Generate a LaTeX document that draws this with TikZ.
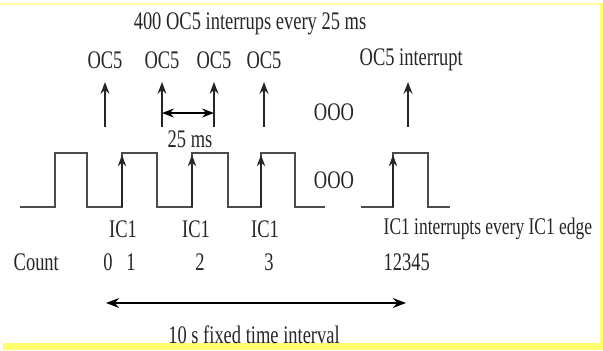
\documentclass[tikz,border=0pt]{standalone}
\usepackage{fontspec}
\setmainfont[FakeStretch=0.73]{Liberation Serif}
\usetikzlibrary{arrows.meta,positioning}
\definecolor{edgeyellow}{RGB}{255,255,110}
\tikzset{lbl/.style={inner sep=1pt,font=\fontsize{18}{20}\selectfont,text=black!85},
  sig/.style={line width=1.1pt,black!70},
  up/.style={->,line width=1.2pt,black!85}}
\begin{document}
\begin{tikzpicture}[x=0.025cm,y=-0.025cm,>=Stealth]
\useasboundingbox (0,0) rectangle (603,350);
\fill[edgeyellow!60] (0,3) rectangle (603,5);
\fill[edgeyellow] (600,3) rectangle (603,350);
\fill[edgeyellow] (3,343) rectangle (603,350);
\node[lbl] (title) at (250,24) {400 OC5 interrups every 25 ms};
\node[lbl] (oc1) at (105,60) {OC5};
\node[lbl] (oc2) at (162,60) {OC5};
\node[lbl] (oc3) at (214,60) {OC5};
\node[lbl] (oc4) at (264,60) {OC5};
\node[lbl,anchor=west] (oc5) at (358,60) {OC5 interrupt};
\foreach \n/\x in {a/105,b/162,c/214,d/264,e/408}{
  \coordinate (\n0) at (\x,127); \coordinate (\n1) at (\x,82);
  \draw[up] (\n0) -- (\n1);}
\draw[<->,line width=1.2pt] (162,113) -- (214,113);
\node[lbl] (ms) at (190,139) {25 ms};
\node[lbl] (dots1) at (334,112) {OOO};
\node[lbl] (dots2) at (334,180) {OOO};
\draw[sig] (20,207) -| (55,153) -| (87,207) -| (122,153) -| (157,207) -| (192,153)
  -| (228,207) -| (261,153) -| (295,207) -- (325,207);
\draw[sig] (361,207) -| (393,153) -| (428,207) -- (450,207);
\foreach \x in {122,192,261,393}
  \draw[up,line width=1.1pt] (\x,207) -- (\x,155);
\node[lbl] (ic1) at (123,229) {IC1};
\node[lbl] (ic2) at (196,229) {IC1};
\node[lbl] (ic3) at (265,229) {IC1};
\node[lbl,anchor=west,font=\fontsize{17}{20}\selectfont] (ic4) at (382,229) {IC1 interrupts every IC1 edge};
\node[lbl,anchor=west] (cnt) at (12,262) {Count};
\node[lbl] (c0) at (108,262) {0};
\node[lbl] (c1) at (131,262) {1};
\node[lbl] (c2) at (200,262) {2};
\node[lbl] (c3) at (269,262) {3};
\node[lbl,anchor=west] (c4) at (382,262) {12345};
\coordinate (ta) at (106,303); \coordinate (tb) at (406,303);
\draw[<->,line width=1.4pt] (ta) -- (tb);
\node[lbl] (ten) at (254,335) {10 s fixed time interval};
\end{tikzpicture}
\end{document}
